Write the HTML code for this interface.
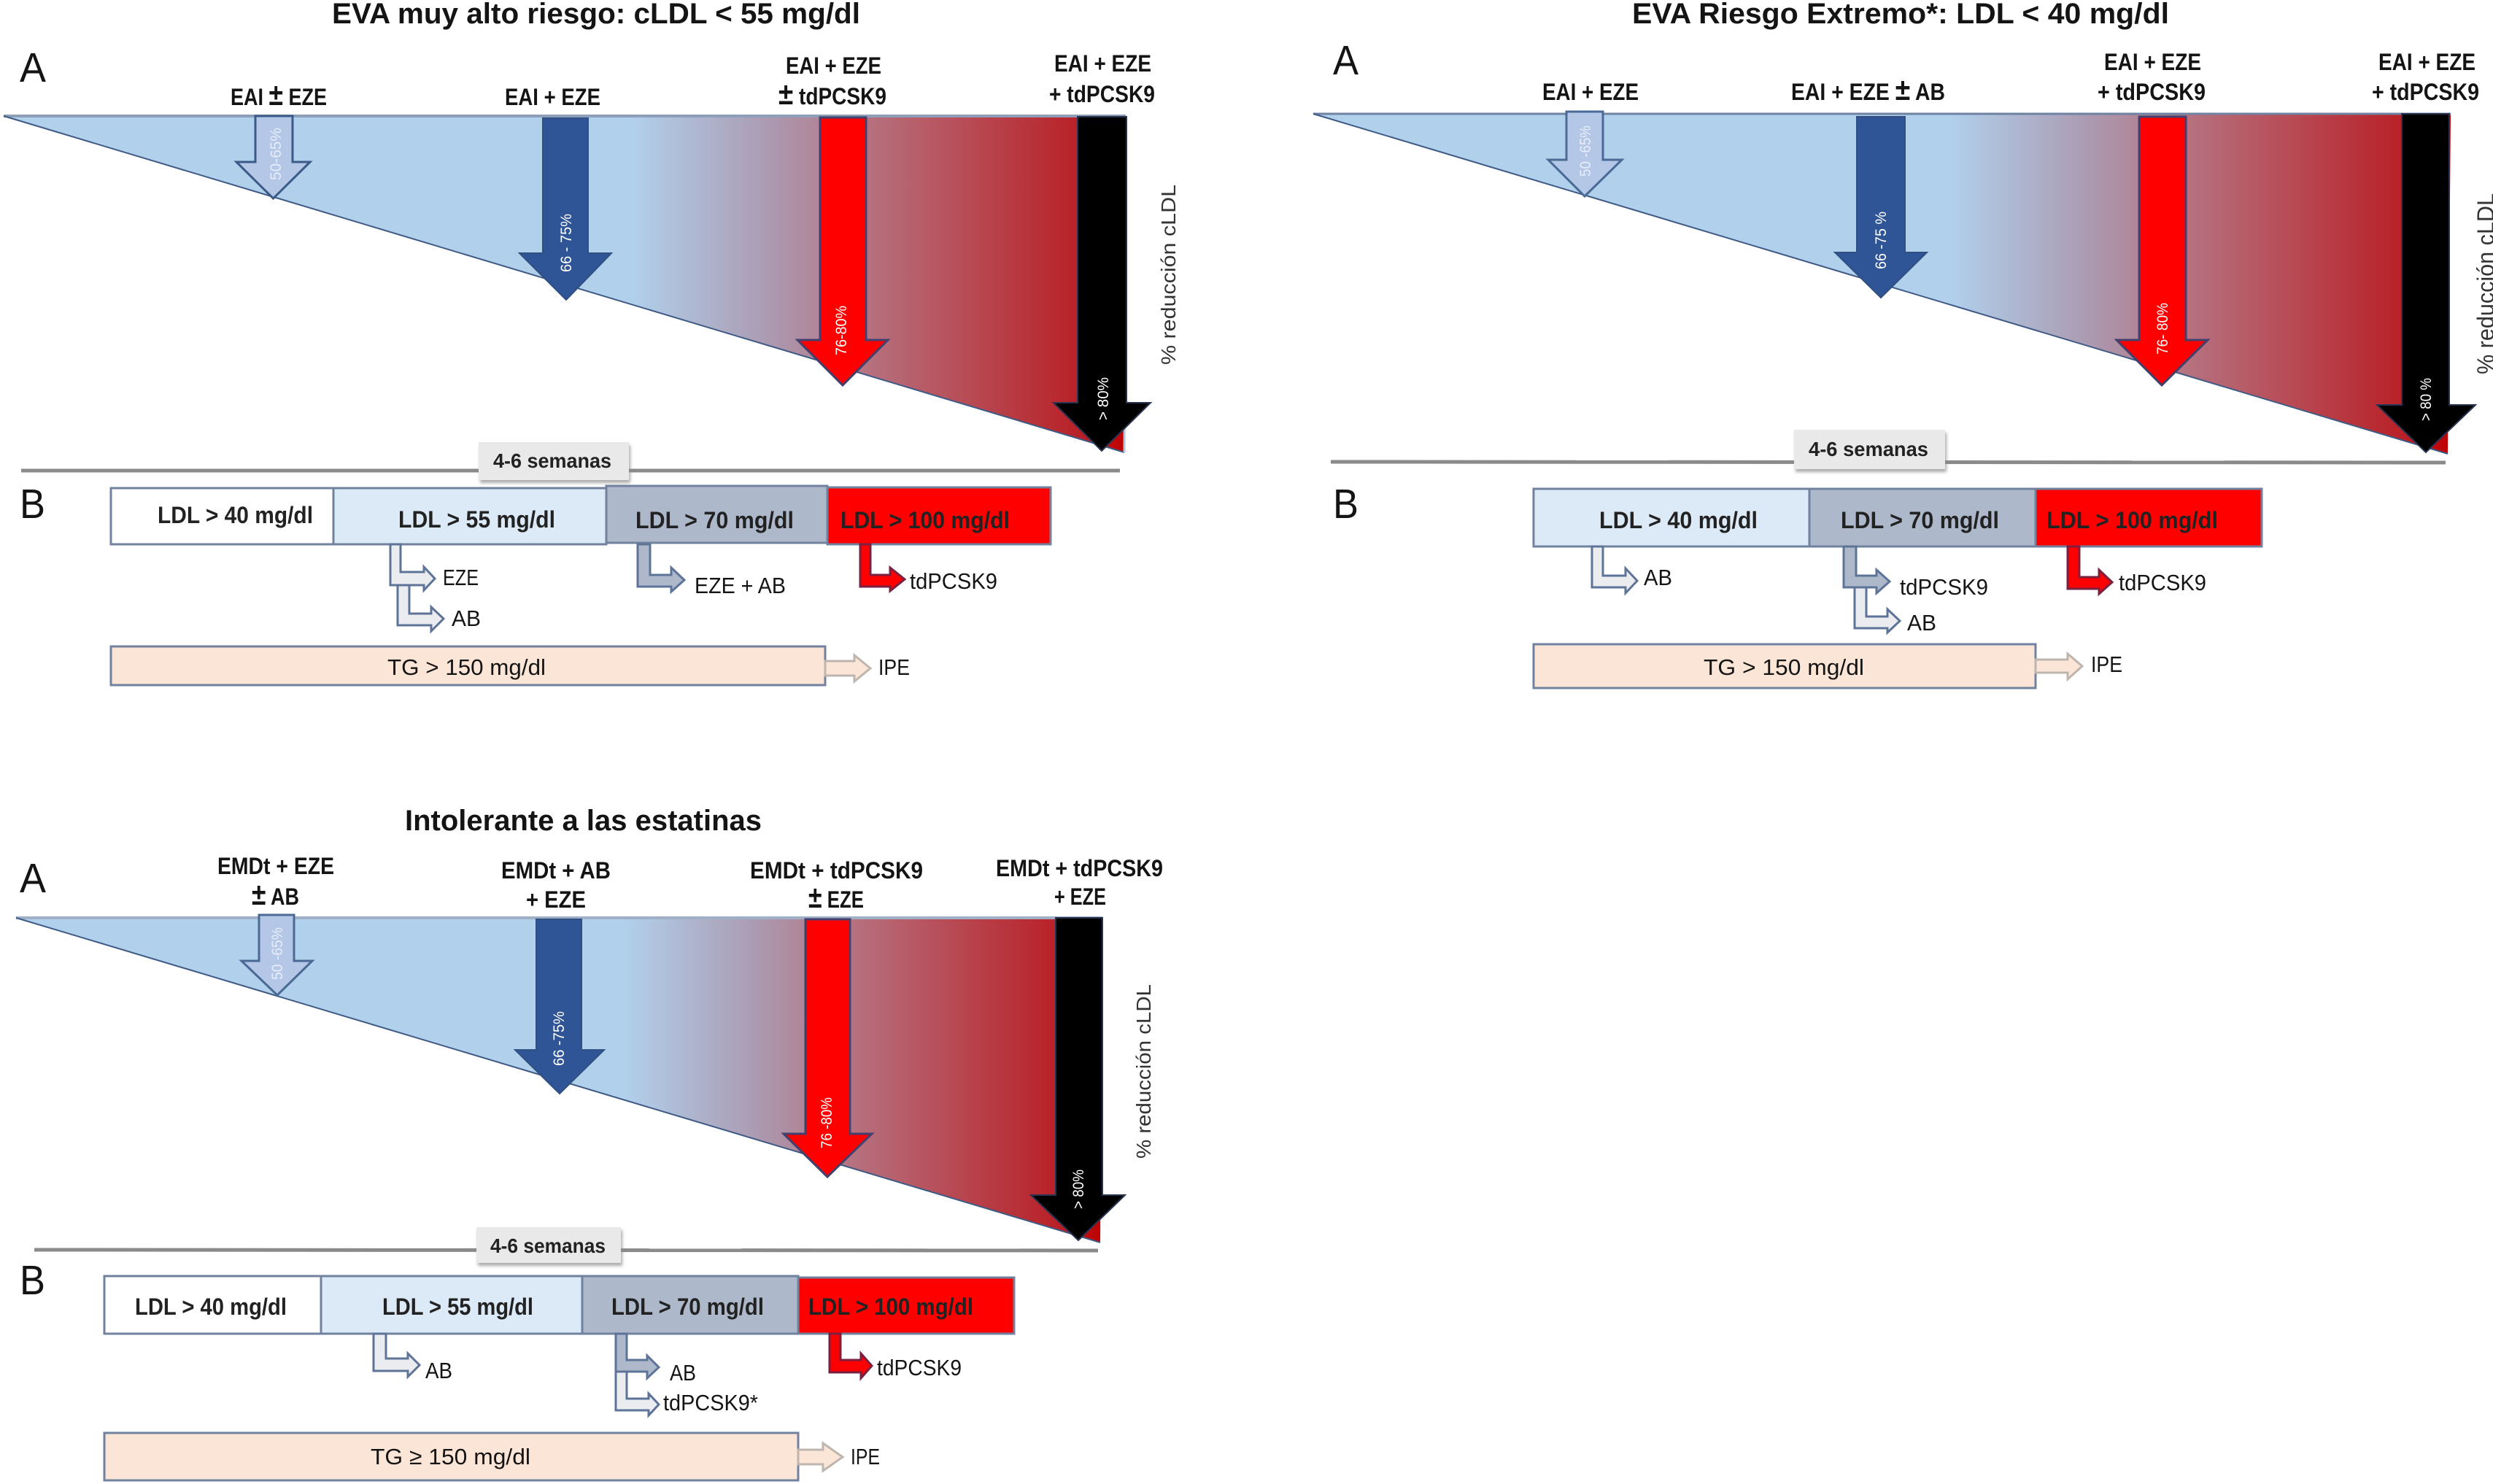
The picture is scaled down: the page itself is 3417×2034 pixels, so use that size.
<!DOCTYPE html>
<html lang="es">
<head>
<meta charset="utf-8">
<title>Algoritmo de reducción de cLDL</title>
<style>
html,body{margin:0;padding:0;background:#fff;}
svg{display:block;}
text{font-family:"Liberation Sans Narrow","Liberation Sans",sans-serif;fill:#141414;}
.t{font-size:40px;font-weight:700;}
.big{font-size:57px;font-family:"Liberation Sans Narrow","Liberation Sans",sans-serif;}
.h{font-size:32px;font-weight:700;}
.l{font-size:32px;font-weight:700;fill:#222;}
.r{font-size:31px;}
.s{font-size:28px;font-weight:700;fill:#222;}
.v{font-size:21px;fill:#fff;}
.y{font-size:28px;font-family:"Liberation Sans",sans-serif;fill:#333;}
.box{stroke:#71829f;stroke-width:3;}
.tri{stroke:none;}
.bent{fill:#ebecef;stroke:#5d7398;stroke-width:3;}
.bentg{fill:#adb9ca;stroke:#5d7398;stroke-width:3;}
.bentr{fill:#f00;stroke:#7a2040;stroke-width:3;}
.ipe{fill:#fbe5d6;stroke:#bdb5ae;stroke-width:3;}
</style>
</head>
<body>
<svg xmlns="http://www.w3.org/2000/svg" width="3417" height="2034" viewBox="0 0 3417 2034">
<defs>
<linearGradient id="grad" x1="0" y1="0" x2="1" y2="0">
<stop offset="0" stop-color="#b1d0ec"/>
<stop offset="0.56" stop-color="#b1d0ec"/>
<stop offset="0.68" stop-color="#ab9bb2"/>
<stop offset="0.77" stop-color="#b6717f"/>
<stop offset="0.96" stop-color="#b92026"/>
<stop offset="1" stop-color="#c00000"/>
</linearGradient>
<filter id="sh" x="-10%" y="-10%" width="120%" height="130%"><feDropShadow dx="2" dy="4" stdDeviation="2" flood-color="#888" flood-opacity="0.7"/></filter>
</defs>

<!-- PANEL 1 -->
<g>
<text class="t" x="455" y="32" textLength="724" lengthAdjust="spacingAndGlyphs">EVA muy alto riesgo: cLDL &lt; 55 mg/dl</text>
<text class="big" x="27" y="112" textLength="36" lengthAdjust="spacingAndGlyphs">A</text>
<text class="big" x="27" y="710" textLength="35" lengthAdjust="spacingAndGlyphs">B</text>

<polygon class="tri" points="5,159 1543,159 1541,620" fill="url(#grad)"/>
<line x1="5" y1="159" x2="1543" y2="159" stroke="#8d9fb8" stroke-width="4"/>
<line x1="5" y1="159" x2="1541" y2="620" stroke="#3f5a85" stroke-width="2"/>
<line x1="1543" y1="159" x2="1541" y2="620" stroke="#b8c2d2" stroke-width="3"/>

<path d="M350,159L401,159L401,222L425,222L374.5,272L324,222L350,222Z" fill="#b4c7e7" stroke="#3a5a88" stroke-width="3"/>
<path d="M744,162L806,162L806,347L838,347L776,411L712,347L744,347Z" fill="#2f5597" stroke="#2f5080" stroke-width="2"/>
<path d="M1124,161L1187,161L1187,466L1217,466L1155,528L1093,466L1124,466Z" fill="#f00" stroke="#43406e" stroke-width="3"/>
<path d="M1477,160L1544,160L1544,552L1577,552L1510,618L1444,552L1477,552Z" fill="#000" stroke="#2a3350" stroke-width="2"/>

<text class="v" transform="translate(385,247) rotate(-90)" textLength="72" lengthAdjust="spacingAndGlyphs" style="fill:#e6edf8">50-65%</text>
<text class="v" transform="translate(783,373) rotate(-90)" textLength="80" lengthAdjust="spacingAndGlyphs">66 - 75%</text>
<text class="v" transform="translate(1160,487) rotate(-90)" textLength="68" lengthAdjust="spacingAndGlyphs">76-80%</text>
<text class="v" transform="translate(1519,576) rotate(-90)" textLength="59" lengthAdjust="spacingAndGlyphs">&gt; 80%</text>

<text class="h" x="316" y="144" textLength="132" lengthAdjust="spacingAndGlyphs">EAI <tspan font-size="42">±</tspan> EZE</text>
<text class="h" x="692" y="144" textLength="131" lengthAdjust="spacingAndGlyphs">EAI + EZE</text>
<text class="h" x="1077" y="101" textLength="131" lengthAdjust="spacingAndGlyphs">EAI + EZE</text>
<text class="h" x="1067" y="143" textLength="148" lengthAdjust="spacingAndGlyphs"><tspan font-size="42">±</tspan> tdPCSK9</text>
<text class="h" x="1445" y="98" textLength="133" lengthAdjust="spacingAndGlyphs">EAI + EZE</text>
<text class="h" x="1438" y="140" textLength="145" lengthAdjust="spacingAndGlyphs">+ tdPCSK9</text>

<text class="y" transform="translate(1611,500) rotate(-90)" textLength="247" lengthAdjust="spacingAndGlyphs">% reducción cLDL</text>

<line x1="29" y1="645" x2="1535" y2="645" stroke="#8a8a8a" stroke-width="5"/>
<rect x="656" y="606" width="206" height="52" fill="#e9e9e9" filter="url(#sh)"/>
<text class="s" x="676" y="641" textLength="162" lengthAdjust="spacingAndGlyphs">4-6 semanas</text>

<rect class="box" x="152" y="669" width="305" height="77" fill="#fff"/>
<rect class="box" x="457" y="669" width="374" height="77" fill="#dce9f6"/>
<rect class="box" x="831" y="666" width="303" height="78" fill="#adb9ca"/>
<rect class="box" x="1134" y="668" width="306" height="78" fill="#f00"/>
<text class="l" x="216" y="717" textLength="213" lengthAdjust="spacingAndGlyphs">LDL &gt; 40 mg/dl</text>
<text class="l" x="546" y="723" textLength="215" lengthAdjust="spacingAndGlyphs">LDL &gt; 55 mg/dl</text>
<text class="l" x="871" y="724" textLength="217" lengthAdjust="spacingAndGlyphs">LDL &gt; 70 mg/dl</text>
<text class="l" x="1152" y="724" textLength="232" lengthAdjust="spacingAndGlyphs">LDL &gt; 100 mg/dl</text>

<path class="bent" d="M535,746L549,746L549,784L581,784L581,777L596,793L581,809L581,802L535,802Z"/>
<path class="bent" d="M545,802L561,802L561,841L591,841L591,832L608,848L591,865L591,857L545,857Z"/>
<path class="bentg" d="M874,746L891,746L891,788L920,788L920,778L938,795L920,811L920,804L874,804Z"/>
<path class="bentr" d="M1179,746L1193,746L1193,788L1220,788L1220,778L1240,794L1220,810L1220,804L1179,804Z"/>
<text class="r" x="607" y="802" textLength="49" lengthAdjust="spacingAndGlyphs">EZE</text>
<text class="r" x="619" y="858" textLength="40" lengthAdjust="spacingAndGlyphs">AB</text>
<text class="r" x="952" y="813" textLength="125" lengthAdjust="spacingAndGlyphs">EZE + AB</text>
<text class="r" x="1247" y="807" textLength="120" lengthAdjust="spacingAndGlyphs">tdPCSK9</text>

<rect class="box" x="152" y="886" width="979" height="53" fill="#fbe5d6"/>
<text class="r" x="531" y="925" textLength="217" lengthAdjust="spacingAndGlyphs">TG &gt; 150 mg/dl</text>
<path class="ipe" d="M1131,906L1171,906L1171,898L1193,916L1171,934L1171,926L1131,926Z"/>
<text class="r" x="1204" y="925" textLength="43" lengthAdjust="spacingAndGlyphs">IPE</text>
</g>

<!-- PANEL 2 -->
<g>
<text class="t" x="2237" y="32" textLength="736" lengthAdjust="spacingAndGlyphs">EVA Riesgo Extremo*: LDL &lt; 40 mg/dl</text>
<text class="big" x="1827" y="102" textLength="35" lengthAdjust="spacingAndGlyphs">A</text>
<text class="big" x="1827" y="710" textLength="35" lengthAdjust="spacingAndGlyphs">B</text>

<polygon class="tri" points="1800,156 3359,156 3355,622" fill="url(#grad)"/>
<line x1="1800" y1="156" x2="3359" y2="156" stroke="#6f82a2" stroke-width="3"/>
<line x1="1800" y1="156" x2="3355" y2="622" stroke="#3f5a85" stroke-width="2"/>

<path d="M2147,153L2197,153L2197,219L2223,219L2172,269L2122,219L2147,219Z" fill="#b4c7e7" stroke="#4a6a96" stroke-width="3"/>
<path d="M2545,160L2611,160L2611,346L2641,346L2578,408L2515,346L2545,346Z" fill="#2f5597" stroke="#2f5080" stroke-width="2"/>
<path d="M2932,160L2996,160L2996,466L3026,466L2963,528L2901,466L2932,466Z" fill="#f00" stroke="#43406e" stroke-width="3"/>
<path d="M3292,156L3357,156L3357,555L3393,555L3325,620L3258,555L3292,555Z" fill="#000" stroke="#2a3350" stroke-width="2"/>

<text class="v" transform="translate(2180,242) rotate(-90)" textLength="70" lengthAdjust="spacingAndGlyphs" style="fill:#e6edf8">50 -65%</text>
<text class="v" transform="translate(2585,369) rotate(-90)" textLength="79" lengthAdjust="spacingAndGlyphs">66 -75 %</text>
<text class="v" transform="translate(2971,486) rotate(-90)" textLength="71" lengthAdjust="spacingAndGlyphs">76- 80%</text>
<text class="v" transform="translate(3332,577) rotate(-90)" textLength="59" lengthAdjust="spacingAndGlyphs">&gt; 80 %</text>

<text class="h" x="2114" y="137" textLength="132" lengthAdjust="spacingAndGlyphs">EAI + EZE</text>
<text class="h" x="2455" y="137" textLength="211" lengthAdjust="spacingAndGlyphs">EAI + EZE <tspan font-size="42">±</tspan> AB</text>
<text class="h" x="2884" y="96" textLength="133" lengthAdjust="spacingAndGlyphs">EAI + EZE</text>
<text class="h" x="2875" y="137" textLength="148" lengthAdjust="spacingAndGlyphs">+ tdPCSK9</text>
<text class="h" x="3260" y="96" textLength="133" lengthAdjust="spacingAndGlyphs">EAI + EZE</text>
<text class="h" x="3251" y="137" textLength="147" lengthAdjust="spacingAndGlyphs">+ tdPCSK9</text>

<text class="y" transform="translate(3418,513) rotate(-90)" textLength="248" lengthAdjust="spacingAndGlyphs" style="font-size:32px">% reducción cLDL</text>

<line x1="1824" y1="633" x2="3352" y2="634" stroke="#8a8a8a" stroke-width="5"/>
<rect x="2459" y="589" width="207" height="54" fill="#e9e9e9" filter="url(#sh)"/>
<text class="s" x="2479" y="625" textLength="164" lengthAdjust="spacingAndGlyphs">4-6 semanas</text>

<rect class="box" x="2102" y="670" width="378" height="79" fill="#dce9f6"/>
<rect class="box" x="2480" y="670" width="310" height="79" fill="#adb9ca"/>
<rect class="box" x="2790" y="670" width="310" height="79" fill="#f00"/>
<text class="l" x="2192" y="724" textLength="217" lengthAdjust="spacingAndGlyphs">LDL &gt; 40 mg/dl</text>
<text class="l" x="2523" y="724" textLength="217" lengthAdjust="spacingAndGlyphs">LDL &gt; 70 mg/dl</text>
<text class="l" x="2805" y="724" textLength="235" lengthAdjust="spacingAndGlyphs">LDL &gt; 100 mg/dl</text>

<path class="bent" d="M2182,749L2197,749L2197,789L2228,789L2228,779L2244,796L2228,813L2228,805L2182,805Z"/>
<path class="bentg" d="M2527,749L2544,749L2544,789L2572,789L2572,781L2590,797L2572,813L2572,805L2527,805Z"/>
<path class="bent" d="M2542,805L2558,805L2558,845L2587,845L2587,835L2604,851L2587,867L2587,861L2542,861Z"/>
<path class="bentr" d="M2834,749L2850,749L2850,791L2877,791L2877,781L2895,798L2877,814L2877,807L2834,807Z"/>
<text class="r" x="2253" y="802" textLength="39" lengthAdjust="spacingAndGlyphs">AB</text>
<text class="r" x="2604" y="815" textLength="121" lengthAdjust="spacingAndGlyphs">tdPCSK9</text>
<text class="r" x="2614" y="864" textLength="40" lengthAdjust="spacingAndGlyphs">AB</text>
<text class="r" x="2904" y="809" textLength="120" lengthAdjust="spacingAndGlyphs">tdPCSK9</text>

<rect class="box" x="2102" y="883" width="688" height="60" fill="#fbe5d6"/>
<text class="r" x="2335" y="925" textLength="220" lengthAdjust="spacingAndGlyphs">TG &gt; 150 mg/dl</text>
<path class="ipe" d="M2790,904L2834,904L2834,896L2854,913L2834,931L2834,922L2790,922Z"/>
<text class="r" x="2866" y="921" textLength="43" lengthAdjust="spacingAndGlyphs">IPE</text>
</g>

<!-- PANEL 3 -->
<g>
<text class="t" x="555" y="1138" textLength="489" lengthAdjust="spacingAndGlyphs">Intolerante a las estatinas</text>
<text class="big" x="27" y="1223" textLength="36" lengthAdjust="spacingAndGlyphs">A</text>
<text class="big" x="27" y="1774" textLength="35" lengthAdjust="spacingAndGlyphs">B</text>

<polygon class="tri" points="22,1258 1511,1258 1508,1703" fill="url(#grad)"/>
<line x1="22" y1="1258" x2="1511" y2="1258" stroke="#9fb0c6" stroke-width="4"/>
<line x1="22" y1="1258" x2="1508" y2="1703" stroke="#3f5a85" stroke-width="2"/>

<path d="M355,1254L403,1254L403,1317L428,1317L380,1364L331,1317L355,1317Z" fill="#b4c7e7" stroke="#4a6a96" stroke-width="3"/>
<path d="M735,1260L797,1260L797,1439L828,1439L767,1499L706,1439L735,1439Z" fill="#2f5597" stroke="#2f5080" stroke-width="2"/>
<path d="M1104,1260L1165,1260L1165,1554L1195,1554L1134,1613L1074,1554L1104,1554Z" fill="#f00" stroke="#43406e" stroke-width="3"/>
<path d="M1447,1258L1511,1258L1511,1638L1542,1638L1478,1700L1413,1638L1447,1638Z" fill="#000" stroke="#2a3350" stroke-width="2"/>

<text class="v" transform="translate(387,1343) rotate(-90)" textLength="72" lengthAdjust="spacingAndGlyphs" style="fill:#e6edf8">50 -65%</text>
<text class="v" transform="translate(773,1461) rotate(-90)" textLength="75" lengthAdjust="spacingAndGlyphs">66 -75%</text>
<text class="v" transform="translate(1140,1574) rotate(-90)" textLength="70" lengthAdjust="spacingAndGlyphs">76 -80%</text>
<text class="v" transform="translate(1485,1657) rotate(-90)" textLength="54" lengthAdjust="spacingAndGlyphs">&gt; 80%</text>

<text class="h" x="298" y="1198" textLength="160" lengthAdjust="spacingAndGlyphs">EMDt + EZE</text>
<text class="h" x="345" y="1240" textLength="65" lengthAdjust="spacingAndGlyphs"><tspan font-size="42">±</tspan> AB</text>
<text class="h" x="687" y="1204" textLength="150" lengthAdjust="spacingAndGlyphs">EMDt + AB</text>
<text class="h" x="721" y="1244" textLength="82" lengthAdjust="spacingAndGlyphs">+ EZE</text>
<text class="h" x="1028" y="1204" textLength="237" lengthAdjust="spacingAndGlyphs">EMDt  + tdPCSK9</text>
<text class="h" x="1108" y="1244" textLength="76" lengthAdjust="spacingAndGlyphs"><tspan font-size="42">±</tspan> EZE</text>
<text class="h" x="1365" y="1201" textLength="229" lengthAdjust="spacingAndGlyphs">EMDt + tdPCSK9</text>
<text class="h" x="1445" y="1240" textLength="71" lengthAdjust="spacingAndGlyphs">+ EZE</text>

<text class="y" transform="translate(1577,1588) rotate(-90)" textLength="239" lengthAdjust="spacingAndGlyphs">% reducción cLDL</text>

<line x1="47" y1="1713" x2="1505" y2="1714" stroke="#8a8a8a" stroke-width="5"/>
<rect x="653" y="1682" width="198" height="49" fill="#e9e9e9" filter="url(#sh)"/>
<text class="s" x="672" y="1717" textLength="158" lengthAdjust="spacingAndGlyphs">4-6 semanas</text>

<rect class="box" x="143" y="1749" width="297" height="79" fill="#fff"/>
<rect class="box" x="440" y="1749" width="358" height="79" fill="#dce9f6"/>
<rect class="box" x="798" y="1749" width="296" height="79" fill="#adb9ca"/>
<rect class="box" x="1094" y="1751" width="296" height="77" fill="#f00"/>
<text class="l" x="185" y="1802" textLength="208" lengthAdjust="spacingAndGlyphs">LDL &gt; 40 mg/dl</text>
<text class="l" x="524" y="1802" textLength="207" lengthAdjust="spacingAndGlyphs">LDL &gt; 55 mg/dl</text>
<text class="l" x="838" y="1802" textLength="209" lengthAdjust="spacingAndGlyphs">LDL &gt; 70 mg/dl</text>
<text class="l" x="1108" y="1802" textLength="226" lengthAdjust="spacingAndGlyphs">LDL &gt; 100 mg/dl</text>

<path class="bent" d="M512,1828L529,1828L529,1862L559,1862L559,1855L575,1871L559,1887L559,1879L512,1879Z"/>
<path class="bentg" d="M844,1828L859,1828L859,1864L887,1864L887,1858L903,1874L887,1889L887,1880L844,1880Z"/>
<path class="bent" d="M844,1880L859,1880L859,1917L889,1917L889,1910L903,1925L889,1940L889,1933L844,1933Z"/>
<path class="bentr" d="M1137,1828L1152,1828L1152,1864L1180,1864L1180,1855L1195,1872L1180,1889L1180,1881L1137,1881Z"/>
<text class="r" x="583" y="1889" textLength="37" lengthAdjust="spacingAndGlyphs">AB</text>
<text class="r" x="918" y="1892" textLength="36" lengthAdjust="spacingAndGlyphs">AB</text>
<text class="r" x="909" y="1933" textLength="130" lengthAdjust="spacingAndGlyphs">tdPCSK9*</text>
<text class="r" x="1202" y="1885" textLength="116" lengthAdjust="spacingAndGlyphs">tdPCSK9</text>

<rect class="box" x="143" y="1964" width="951" height="65" fill="#fbe5d6"/>
<text class="r" x="508" y="2007" textLength="219" lengthAdjust="spacingAndGlyphs">TG  ≥ 150 mg/dl</text>
<path class="ipe" d="M1094,1987L1128,1987L1128,1978L1155,1997L1128,2016L1128,2007L1094,2007Z"/>
<text class="r" x="1166" y="2007" textLength="40" lengthAdjust="spacingAndGlyphs">IPE</text>
</g>
</svg>
</body>
</html>
